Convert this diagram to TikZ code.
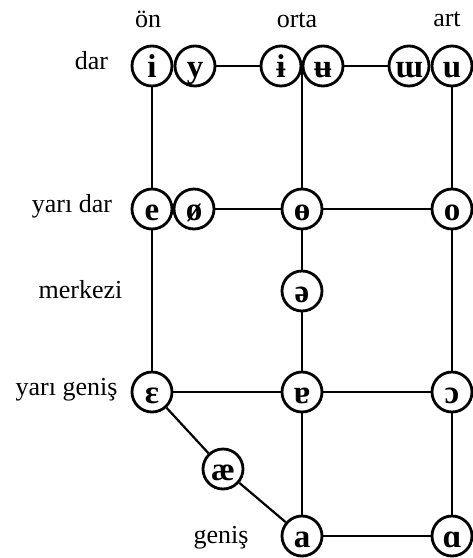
\documentclass[tikz,border=0pt]{standalone}
\usepackage{fontspec}
\setmainfont{Liberation Serif}
\begin{document}
\begin{tikzpicture}[x=1pt,y=-1pt,
  vow/.style={circle,draw,line width=2.8pt,minimum size=40pt,inner sep=0pt,
    text height=22pt,text depth=0pt,
    font=\fontsize{33}{36}\selectfont\bfseries},
  lbl/.style={anchor=base,inner sep=0pt,font=\fontsize{26}{30}\selectfont},
  conn/.style={line width=2.2pt}]
\useasboundingbox (0,0) rectangle (473,558);
% labels
\node[lbl] (lon) at (148,27) {ön};
\node[lbl] (lorta) at (297,27) {orta};
\node[lbl] (lart) at (447,26) {art};
\node[lbl] (ldar) at (91.5,69) {dar};
\node[lbl] (lyd) at (72,212) {yarı dar};
\node[lbl] (lmer) at (80.5,298) {merkezi};
\node[lbl] (lyg) at (66.5,395) {yarı geniş};
\node[lbl] (lgen) at (221,543) {geniş};
% vowels
\node[vow] (i) at (152,66) {i};
\node[vow] (y) at (195,66) {y};
\node[vow] (ib) at (281,66) {ɨ};
\node[vow] (ub) at (323,66) {ʉ};
\node[vow] (mw) at (409,66) {ɯ};
\node[vow] (u) at (452,66) {u};
\coordinate (j) at (302,67);
\node[vow] (e) at (152,209) {e};
\node[vow] (oe) at (194,209) {ø};
\node[vow] (ob) at (302,209) {ɵ};
\node[vow] (o) at (452,209) {o};
\node[vow] (schwa) at (302,291) {ə};
\node[vow] (eps) at (152,392) {ɛ};
\node[vow] (tura) at (302,392) {ɐ};
\node[vow] (oo) at (452,392) {ɔ};
\node[vow] (ae) at (223,469) {æ};
\node[vow] (a) at (302,536) {a};
\node[vow] (al) at (452,536) {ɑ};
% connectors
\draw[conn] (y) -- (ib);
\draw[conn] (ub) -- (mw);
\draw[conn] (i) -- (e);
\draw[conn] (j) -- (ob);
\draw[conn] (u) -- (o);
\draw[conn] (oe) -- (ob);
\draw[conn] (ob) -- (o);
\draw[conn] (ob) -- (schwa);
\draw[conn] (schwa) -- (tura);
\draw[conn] (e) -- (eps);
\draw[conn] (o) -- (oo);
\draw[conn] (eps) -- (tura);
\draw[conn] (tura) -- (oo);
\draw[conn] (eps) -- (ae);
\draw[conn] (ae) -- (a);
\draw[conn] (tura) -- (a);
\draw[conn] (oo) -- (al);
\draw[conn] (a) -- (al);
\end{tikzpicture}
\end{document}
